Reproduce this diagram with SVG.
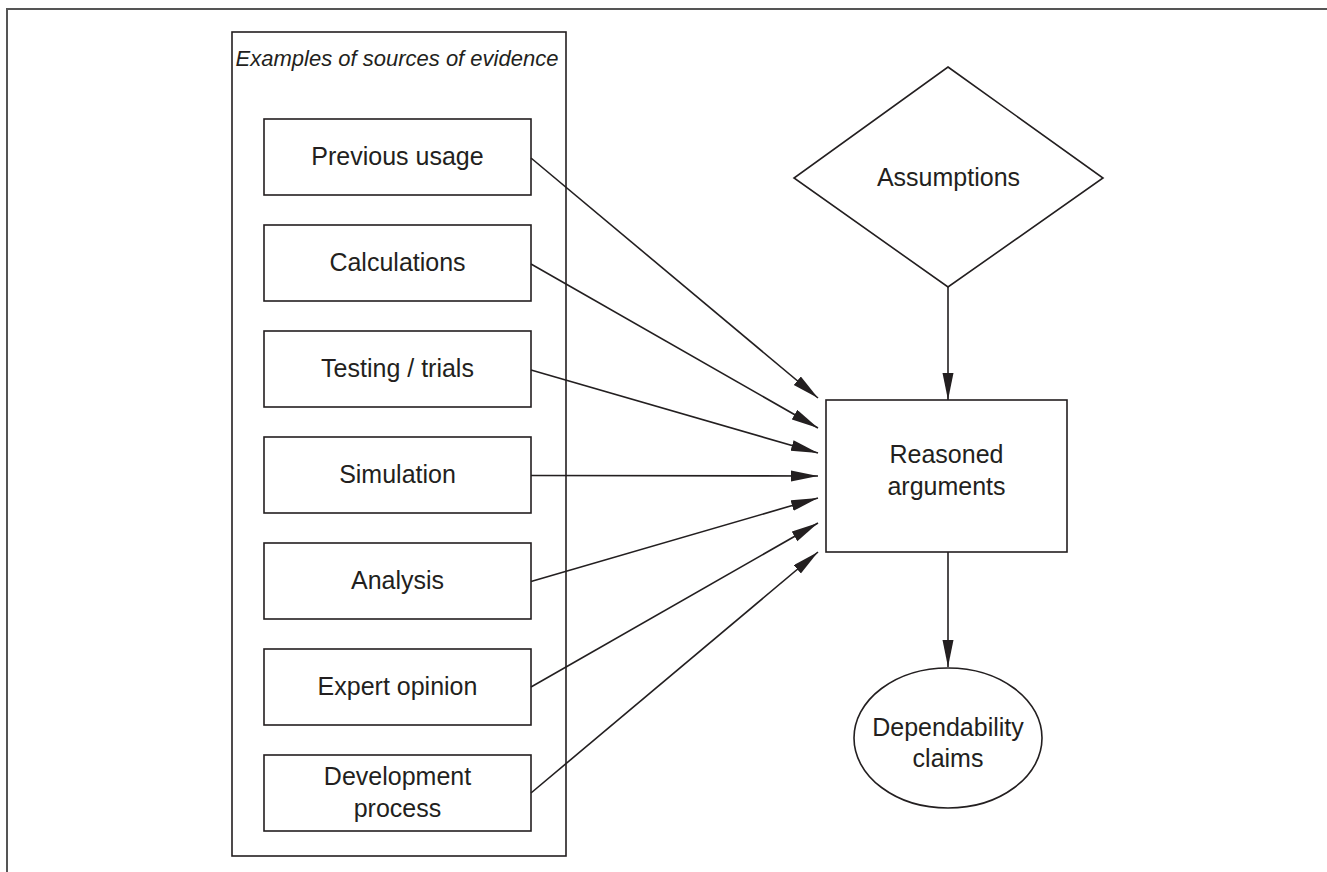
<svg xmlns="http://www.w3.org/2000/svg" width="1327" height="872" viewBox="0 0 1327 872">
<style>
.frame{fill:none;stroke:#555;stroke-width:2}
.box{fill:#fff;stroke:#231f20;stroke-width:1.6}
.cont{fill:none;stroke:#231f20;stroke-width:1.6}
.lbl{font-family:"Liberation Sans",Arial,sans-serif;font-size:25px;fill:#231f20;text-anchor:middle}
.ttl{font-family:"Liberation Sans",Arial,sans-serif;font-size:22px;font-style:italic;fill:#231f20;text-anchor:middle}
.conn{stroke:#231f20;stroke-width:1.6;fill:none;marker-end:url(#ah)}
</style>
<defs>
<marker id="ah" markerUnits="userSpaceOnUse" markerWidth="28" markerHeight="12" refX="27" refY="5.5" orient="auto">
<path d="M0,0 L27,5.5 L0,11 z" fill="#231f20"/>
</marker>
</defs>
<rect width="1327" height="872" fill="#fff"/>
<path class="frame" d="M7,872 V9 H1327"/>
<g id="sources">
<rect class="cont" x="232" y="32" width="334" height="824"/>
<text class="ttl" x="397" y="66">Examples of sources of evidence</text>
</g>
<g id="previous-usage"><rect class="box" x="264" y="119" width="267" height="76"/><text class="lbl" x="397.5" y="165">Previous usage</text></g>
<g id="calculations"><rect class="box" x="264" y="225" width="267" height="76"/><text class="lbl" x="397.5" y="271">Calculations</text></g>
<g id="testing"><rect class="box" x="264" y="331" width="267" height="76"/><text class="lbl" x="397.5" y="377">Testing / trials</text></g>
<g id="simulation"><rect class="box" x="264" y="437" width="267" height="76"/><text class="lbl" x="397.5" y="483">Simulation</text></g>
<g id="analysis"><rect class="box" x="264" y="543" width="267" height="76"/><text class="lbl" x="397.5" y="589">Analysis</text></g>
<g id="expert-opinion"><rect class="box" x="264" y="649" width="267" height="76"/><text class="lbl" x="397.5" y="695">Expert opinion</text></g>
<g id="development-process"><rect class="box" x="264" y="755" width="267" height="76"/><text class="lbl" x="397.5" y="785">Development</text><text class="lbl" x="397.5" y="817">process</text></g>
<g id="assumptions"><polygon class="box" points="948,67 1103,178 948,287 794,178"/><text class="lbl" x="948.5" y="186">Assumptions</text></g>
<g id="reasoned-arguments"><rect class="box" x="826" y="400" width="241" height="152"/><text class="lbl" x="946.5" y="463">Reasoned</text><text class="lbl" x="946.5" y="495">arguments</text></g>
<g id="dependability-claims"><ellipse class="box" cx="948" cy="738" rx="94" ry="70"/><text class="lbl" x="948" y="736">Dependability</text><text class="lbl" x="948" y="767">claims</text></g>
<g id="connectors">
<line class="conn" x1="531" y1="158" x2="818" y2="398"/>
<line class="conn" x1="531" y1="264" x2="818" y2="428"/>
<line class="conn" x1="531" y1="370" x2="818" y2="453"/>
<line class="conn" x1="531" y1="475.5" x2="818" y2="476"/>
<line class="conn" x1="531" y1="581.5" x2="818" y2="498"/>
<line class="conn" x1="531" y1="687" x2="818" y2="523"/>
<line class="conn" x1="531" y1="793" x2="818" y2="552"/>
<line class="conn" x1="948" y1="287" x2="948" y2="400"/>
<line class="conn" x1="948" y1="552" x2="948" y2="667"/>
</g>
</svg>
